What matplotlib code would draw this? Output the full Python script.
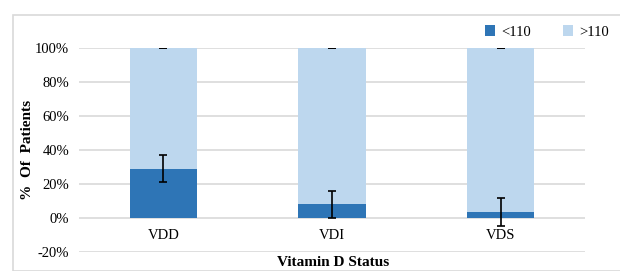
import matplotlib
matplotlib.use("Agg")
import matplotlib.pyplot as plt
from matplotlib.patches import Rectangle
import numpy as np

categories = ["VDD", "VDI", "VDS"]
low = [29, 8, 3.5]       # <110 (%)
high = [71, 92, 96.5]    # >110 (%)
low_err = [8, 8, 8]
high_err = [0, 0, 0]
yticks = [-20, 0, 20, 40, 60, 80, 100]

plt.rcParams['font.family'] = ['Liberation Serif', 'DejaVu Serif']

fig = plt.figure(figsize=(6.2, 2.71), dpi=100)
ax = fig.add_axes([79/620, 1-252/271, 506/620, 204/271])

x = np.arange(len(categories))
w = 0.4
c_low = "#2E75B6"
c_high = "#BDD7EE"
ax.bar(x, low, w, color=c_low, label="<110", zorder=2)
ax.bar(x, high, w, bottom=low, color=c_high, label=">110", zorder=2)
ax.errorbar(x, low, yerr=low_err, fmt="none", ecolor="black", elinewidth=1.2, capsize=3, capthick=1.2, zorder=3)
ax.errorbar(x, np.array(low) + np.array(high), yerr=high_err, fmt="none", ecolor="black", elinewidth=1.2, capsize=3, capthick=1.2, zorder=3)

ax.set_xlim(-0.5, 2.5)
ax.set_ylim(-20, 100)
ax.set_yticks(yticks)
ax.set_yticklabels([f"{t}%" for t in yticks], fontsize=10.5)
ax.set_xticks(x)
ax.set_xticklabels(categories, fontsize=10.5)
ax.tick_params(axis='both', length=0)
ax.tick_params(axis='y', pad=7)
ax.tick_params(axis='x', pad=-16.5)
ax.grid(axis='y', color='#D9D9D9', linewidth=1.2, zorder=0)
for s in ax.spines.values():
    s.set_visible(False)
ax.set_axisbelow(True)

fig.text(28/620, 1-150/271, "%  Of  Patients", rotation=90, ha='center', va='center',
         fontsize=11, fontweight='bold')
fig.text(333/620, 1-263/271, "Vitamin D Status", ha='center', va='center',
         fontsize=11, fontweight='bold')

leg = fig.legend(loc='center', bbox_to_anchor=(547/620, 1-32/271), ncol=2, frameon=False,
                 fontsize=10.5, handlelength=0.7, handleheight=0.7, columnspacing=2.2,
                 handletextpad=0.4, borderpad=0, borderaxespad=0)

fig.patches.append(Rectangle((13/620, 0), 1, 1-15/271, transform=fig.transFigure,
                             fill=False, edgecolor='#D9D9D9', linewidth=1.2))

fig.savefig("out.png", dpi=100)
